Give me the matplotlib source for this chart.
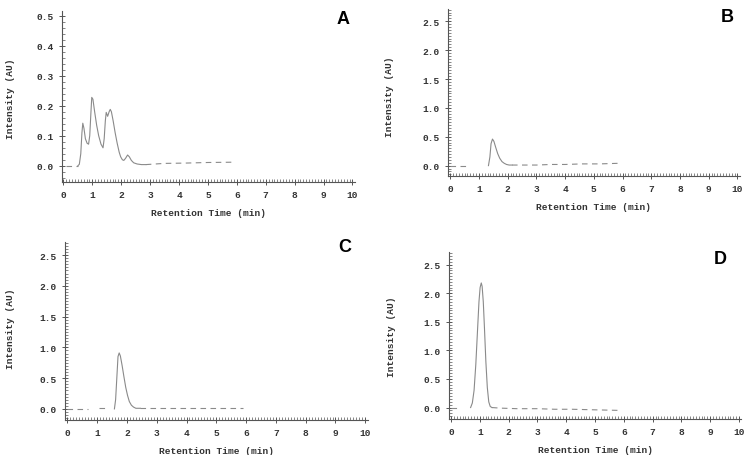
#%%############################################################################
# Chromatograms A-D: intensity vs retention time.
###############################################################################
import matplotlib
matplotlib.use('Agg')
import matplotlib.pyplot as plt
from matplotlib.ticker import MultipleLocator

#%%############################################################################
# Data (retention time in min, intensity in AU).
###############################################################################
timeA_min = [0.50, 0.55, 0.60, 0.64, 0.67, 0.71, 0.76, 0.82, 0.87, 0.91, 0.95, 0.98, 1.02, 1.08,
             1.15, 1.22, 1.30, 1.37, 1.41, 1.45, 1.48, 1.53, 1.58, 1.62, 1.66, 1.72, 1.79, 1.86,
             1.93, 1.98, 2.04, 2.09, 2.15, 2.22, 2.28, 2.35, 2.43, 2.55, 2.70, 2.85]
intA_AU = [0.000, 0.005, 0.040, 0.110, 0.142, 0.125, 0.090, 0.075, 0.072, 0.100, 0.175, 0.228, 0.222, 0.180,
           0.135, 0.100, 0.072, 0.060, 0.090, 0.150, 0.178, 0.165, 0.180, 0.188, 0.180, 0.150, 0.110, 0.075,
           0.045, 0.030, 0.020, 0.018, 0.025, 0.036, 0.030, 0.018, 0.010, 0.006, 0.004, 0.004]
baseTimeA_min = [[0.10, 0.50], [2.85, 3.5, 4.2, 5.0, 5.9]]
baseIntA_AU = [[0.0, 0.0], [0.004, 0.008, 0.009, 0.011, 0.012]]

timeB_min = [1.33, 1.38, 1.42, 1.47, 1.52, 1.58, 1.65, 1.72, 1.80, 1.88, 1.96, 2.05, 2.15]
intB_AU = [0.00, 0.15, 0.38, 0.46, 0.42, 0.32, 0.21, 0.13, 0.07, 0.04, 0.02, 0.01, 0.01]
baseTimeB_min = [[0.0, 0.7], [2.15, 2.5, 3.0, 3.5, 4.0, 4.6, 5.2, 5.85]]
baseIntB_AU = [[0.0, 0.0], [0.01, 0.01, 0.01, 0.02, 0.02, 0.03, 0.03, 0.04]]

timeC_min = [1.58, 1.62, 1.66, 1.70, 1.74, 1.78, 1.84, 1.90, 1.96, 2.02, 2.08, 2.15, 2.22, 2.30, 2.45]
intC_AU = [0.00, 0.15, 0.50, 0.85, 0.91, 0.86, 0.70, 0.52, 0.35, 0.22, 0.12, 0.06, 0.03, 0.01, 0.01]
baseTimeC_min = [[0.0, 0.7], [1.05, 1.35], [2.45, 3.0, 3.6, 4.5, 5.2, 5.9]]
baseIntC_AU = [[0.0, 0.0], [0.01, 0.01], [0.01, 0.01, 0.01, 0.01, 0.01, 0.01]]

timeD_min = [0.68, 0.74, 0.80, 0.86, 0.92, 0.97, 1.01, 1.05, 1.08, 1.12, 1.16, 1.21, 1.26, 1.31, 1.36, 1.42]
intD_AU = [0.00, 0.08, 0.30, 0.75, 1.35, 1.85, 2.10, 2.18, 2.12, 1.85, 1.40, 0.80, 0.35, 0.10, 0.02, 0.00]
baseTimeD_min = [[0.0, 0.25], [1.42, 1.7, 2.3, 3.0, 3.6, 4.2, 5.0, 5.85]]
baseIntD_AU = [[0.0, 0.0], [0.0, -0.01, -0.02, -0.02, -0.03, -0.03, -0.04, -0.05]]

panelLabels = ['A', 'B', 'C', 'D']

#%%############################################################################
# Plot.
###############################################################################
monoFont = {'family': 'Liberation Mono', 'size': 6.8, 'weight': 'bold'}
traceColor = '#8a8a8a'
axisColor = '#555555'

fig = plt.figure(figsize=(7.45, 4.56), dpi=100)

# axes rectangles, limits, y ticks and y label positions per panel
panels = [
    dict(rect=[0.0832, 0.5987, 0.393, 0.375], ylim=(-0.054, 0.516), ymaj=0.1, ymin=0.02,
         t=timeA_min, y=intA_AU, bt=baseTimeA_min, by=baseIntA_AU, xlim=(-0.05, 10.08), ylab=(-0.16, 0.49)),
    dict(rect=[0.6013, 0.6118, 0.392, 0.366], ylim=(-0.18, 2.71), ymaj=0.5, ymin=0.05,
         t=timeB_min, y=intB_AU, bt=baseTimeB_min, by=baseIntB_AU, xlim=(-0.08, 10.09), ylab=(-0.186, 0.48)),
    dict(rect=[0.0872, 0.0768, 0.4067, 0.390], ylim=(-0.18, 2.71), ymaj=0.5, ymin=0.05,
         t=timeC_min, y=intC_AU, bt=baseTimeC_min, by=baseIntC_AU, xlim=(-0.08, 10.09), ylab=(-0.165, 0.52)),
    dict(rect=[0.6027, 0.0790, 0.392, 0.366], ylim=(-0.20, 2.72), ymaj=0.5, ymin=0.05,
         t=timeD_min, y=intD_AU, bt=baseTimeD_min, by=baseIntD_AU, xlim=(-0.07, 10.07), ylab=(-0.18, 0.50)),
]

for p in panels:
    ax = fig.add_axes(p['rect'])
    ax.plot(p['t'], p['y'], color=traceColor, lw=0.8)
    for bt, by in zip(p['bt'], p['by']):
        ax.plot(bt, by, color=traceColor, lw=0.8, linestyle=(0, (5, 4)))
    ax.set_xlim(p['xlim'])
    ax.set_ylim(p['ylim'])
    for side in ['top', 'right']:
        ax.spines[side].set_visible(False)
    for side in ['left', 'bottom']:
        ax.spines[side].set_color(axisColor)
        ax.spines[side].set_linewidth(0.8)
    ax.xaxis.set_minor_locator(MultipleLocator(0.1))
    ax.yaxis.set_minor_locator(MultipleLocator(p['ymin']))
    yTicks = [v * p['ymaj'] for v in range(6) if v * p['ymaj'] <= p['ylim'][1]]
    ax.set_yticks(yTicks)
    ax.set_yticklabels(['%.1f' % v for v in yTicks])
    ax.set_xticks(range(11))
    ax.set_xticklabels([str(v) for v in range(11)])
    ax.tick_params(which='major', direction='inout', length=4, width=0.7, color=axisColor, pad=4)
    ax.tick_params(which='minor', direction='in', length=2, width=0.5, color=axisColor)
    for lbl in ax.get_xticklabels() + ax.get_yticklabels():
        lbl.set_fontproperties(monoFont)
        lbl.set_color('#333333')
    ax.set_xlabel('Retention Time (min)', fontdict=monoFont, color='#333333', labelpad=6)
    ax.set_ylabel('Intensity (AU)', fontdict=monoFont, color='#333333')
    ax.yaxis.set_label_coords(p['ylab'][0], p['ylab'][1])

# panel letters
letterPos = [(343, 20), (727, 18), (345, 248), (720, 260)]
for letter, (px, py) in zip(panelLabels, letterPos):
    fig.text(px / 745, 1 - py / 456, letter, fontsize=13, fontweight='bold',
             family='Liberation Sans', ha='center', va='center')

fig.savefig('out.png', dpi=100)
